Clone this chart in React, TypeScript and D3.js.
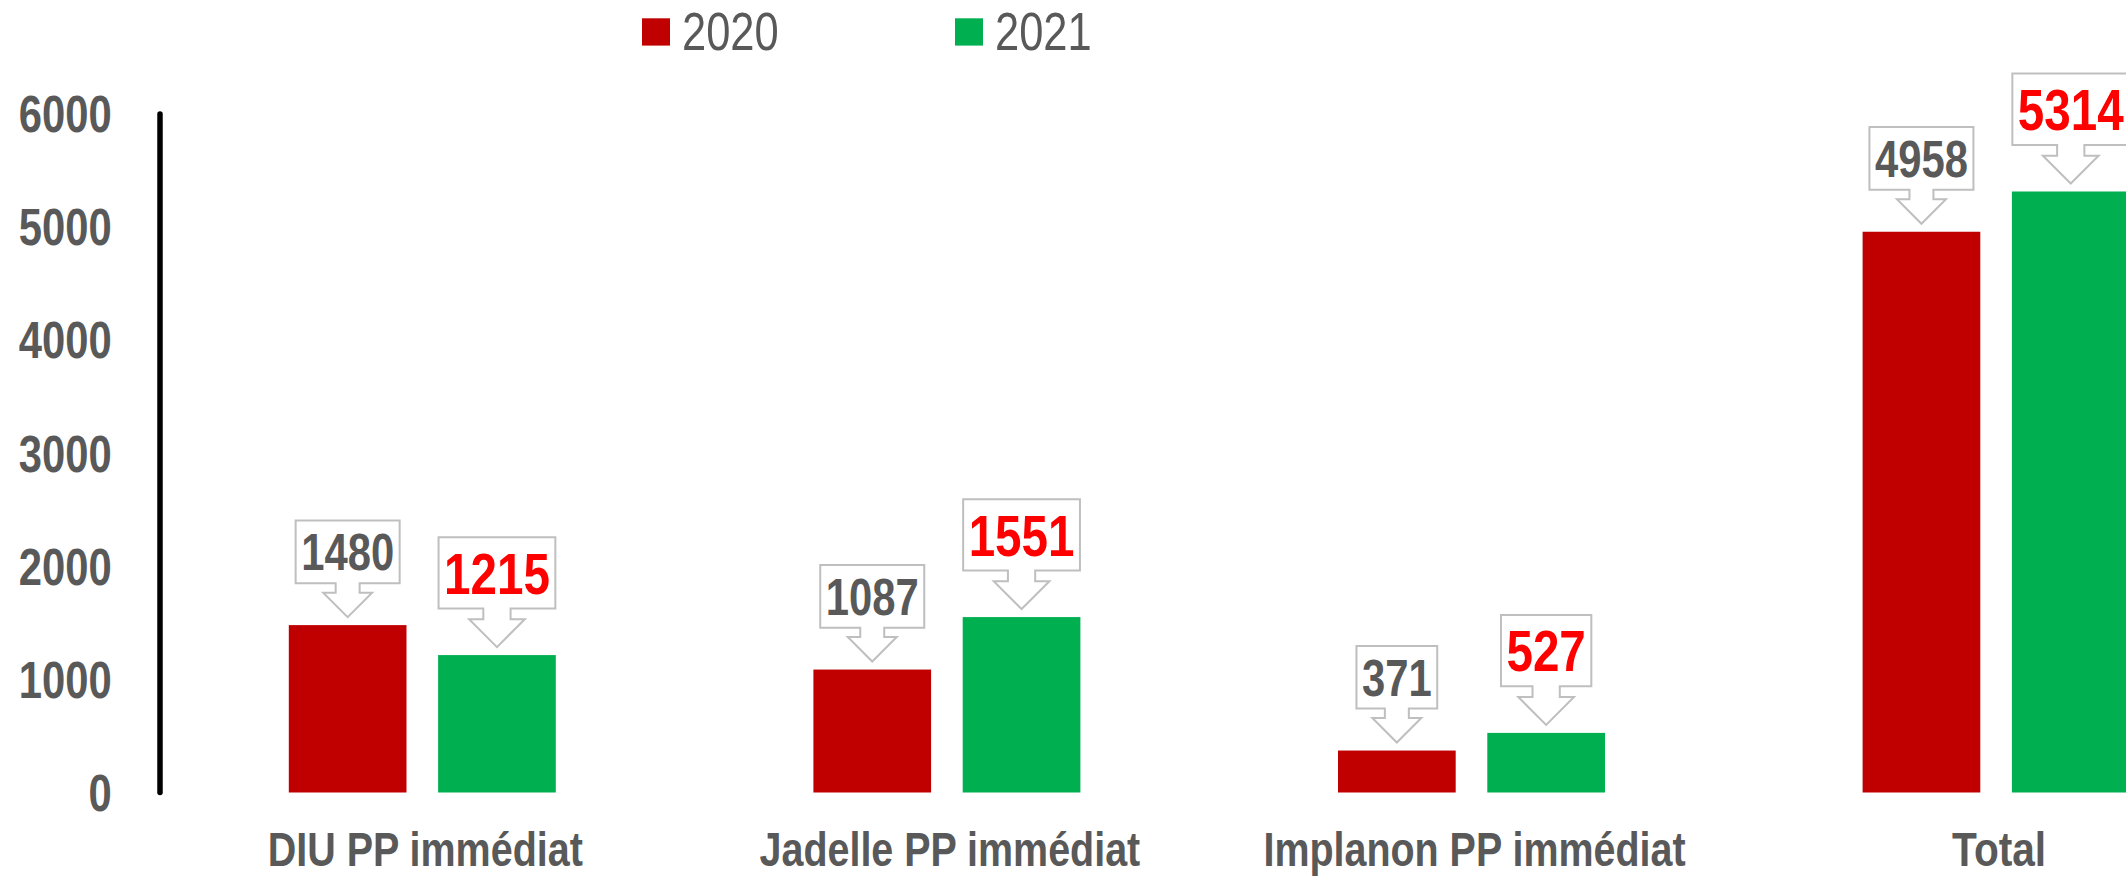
import React from "react";
import * as d3 from "d3";

const categories = ["DIU PP immédiat", "Jadelle PP immédiat", "Implanon PP immédiat", "Total"];
const seriesNames = ["2020", "2021"];
const values2020 = [1480, 1087, 371, 4958];
const values2021 = [1215, 1551, 527, 5314];
const yTicks = [0, 1000, 2000, 3000, 4000, 5000, 6000];

const W = 2126;
const H = 877;
const NARROW = "'Liberation Sans Narrow', 'Arial Narrow', 'Liberation Sans', Arial, sans-serif";
const GRAY = "#595959";
const COLORS = ["#C00000", "#00B050"];
const LABEL_COLORS = [GRAY, "#FF0000"];
const LABEL_FS = [51, 58];

// Arial Bold advance widths (per 1000 em), narrow ≈ 0.82x
const boldW: Record<string, number> = {
  D: 722, I: 278, U: 722, P: 667, i: 278, m: 889, "é": 556, d: 611, a: 556, t: 333,
  J: 556, e: 556, l: 278, n: 611, o: 611, p: 611, T: 611, " ": 278,
};
const narrowWidth = (s: string, fs: number, bold = true) =>
  s.split("").reduce((acc, c) => acc + (/[0-9]/.test(c) ? 556 : bold ? boldW[c] ?? 556 : 556), 0) / 1000 * 0.82 * fs;

export default function App() {
  const x0 = d3.scaleBand<string>().domain(categories).range([160, 160 + 4 * 524.6]).paddingInner(0).paddingOuter(0);
  const y = d3.scaleLinear().domain([0, 6000]).range([792.5, 113.9]);
  const groupW = 267;
  const x1 = d3.scaleBand<string>().domain(seriesNames).range([0, groupW]).paddingInner(0.2117).paddingOuter(0);
  const series = [values2020, values2021];

  const callout = (cx: number, barTop: number, v: number, si: number, key: string) => {
    const fs = LABEL_FS[si];
    const txt = String(v);
    const tw = txt.length * 0.456 * fs;
    const bw = tw + 11;
    const bh = fs * 1.23;
    const gap = 8;
    const headH = fs * 0.48;
    const stemL = fs * 0.185;
    const stemW = fs * 0.47;
    const headW = fs * 0.96;
    const tipY = barTop - gap;
    const headTop = tipY - headH;
    const boxB = headTop - stemL;
    const boxT = boxB - bh;
    const l = cx - bw / 2, r = cx + bw / 2;
    const path = d3.path();
    path.moveTo(l, boxT);
    path.lineTo(r, boxT);
    path.lineTo(r, boxB);
    path.lineTo(cx + stemW / 2, boxB);
    path.lineTo(cx + stemW / 2, headTop);
    path.lineTo(cx + headW / 2, headTop);
    path.lineTo(cx, tipY);
    path.lineTo(cx - headW / 2, headTop);
    path.lineTo(cx - stemW / 2, headTop);
    path.lineTo(cx - stemW / 2, boxB);
    path.lineTo(l, boxB);
    path.closePath();
    const cy = (boxT + boxB) / 2;
    return (
      <g key={key}>
        <path d={path.toString()} fill="#FFFFFF" stroke="#BFBFBF" strokeWidth={2} />
        <text
          x={cx}
          y={cy + fs * 0.358}
          textAnchor="middle"
          fontFamily={NARROW}
          fontWeight="bold"
          fontSize={fs}
          fill={LABEL_COLORS[si]}
          textLength={tw}
          lengthAdjust="spacingAndGlyphs"
        >
          {txt}
        </text>
      </g>
    );
  };

  return (
    <svg width={W} height={H} style={{ position: "absolute", left: 0, top: 0, display: "block", background: "#fff" }}>
      {/* Legend */}
      {seriesNames.map((s, i) => {
        const sx = [642, 955][i];
        return (
          <g key={s}>
            <rect x={sx} y={18.3} width={28} height={27.3} fill={COLORS[i]} />
            <text
              x={sx + 40}
              y={50}
              fontFamily={NARROW}
              fontSize={53}
              fill={GRAY}
              textLength={s.length * 0.456 * 53}
              lengthAdjust="spacingAndGlyphs"
            >
              {s}
            </text>
          </g>
        );
      })}

      {/* Y axis */}
      <line x1={160} x2={160} y1={y(6000)} y2={y(0)} stroke="#000" strokeWidth={5.5} strokeLinecap="round" />
      {yTicks.map((t) => (
        <text
          key={t}
          x={111.7}
          y={y(t) + 18.3}
          textAnchor="end"
          fontFamily={NARROW}
          fontWeight="bold"
          fontSize={51}
          fill={GRAY}
          textLength={String(t).length * 0.456 * 51}
          lengthAdjust="spacingAndGlyphs"
        >
          {t}
        </text>
      ))}

      {/* Bars */}
      {categories.map((c, ci) => {
        const center = (x0(c) as number) + x0.bandwidth() / 2;
        const gx = center - groupW / 2;
        return (
          <g key={c}>
            {seriesNames.map((s, si) => {
              const v = series[si][ci];
              const bx = gx + (x1(s) as number);
              return (
                <rect key={s} x={bx} y={y(v)} width={x1.bandwidth()} height={y(0) - y(v)} fill={COLORS[si]} />
              );
            })}
            {seriesNames.map((s, si) => {
              const v = series[si][ci];
              const bx = gx + (x1(s) as number);
              return callout(bx + x1.bandwidth() / 2, y(v), v, si, s + "-lbl");
            })}
            <text
              x={center + 3}
              y={866}
              textAnchor="middle"
              fontFamily={NARROW}
              fontWeight="bold"
              fontSize={48}
              fill={GRAY}
              textLength={narrowWidth(c, 48)}
              lengthAdjust="spacingAndGlyphs"
            >
              {c}
            </text>
          </g>
        );
      })}
    </svg>
  );
}
